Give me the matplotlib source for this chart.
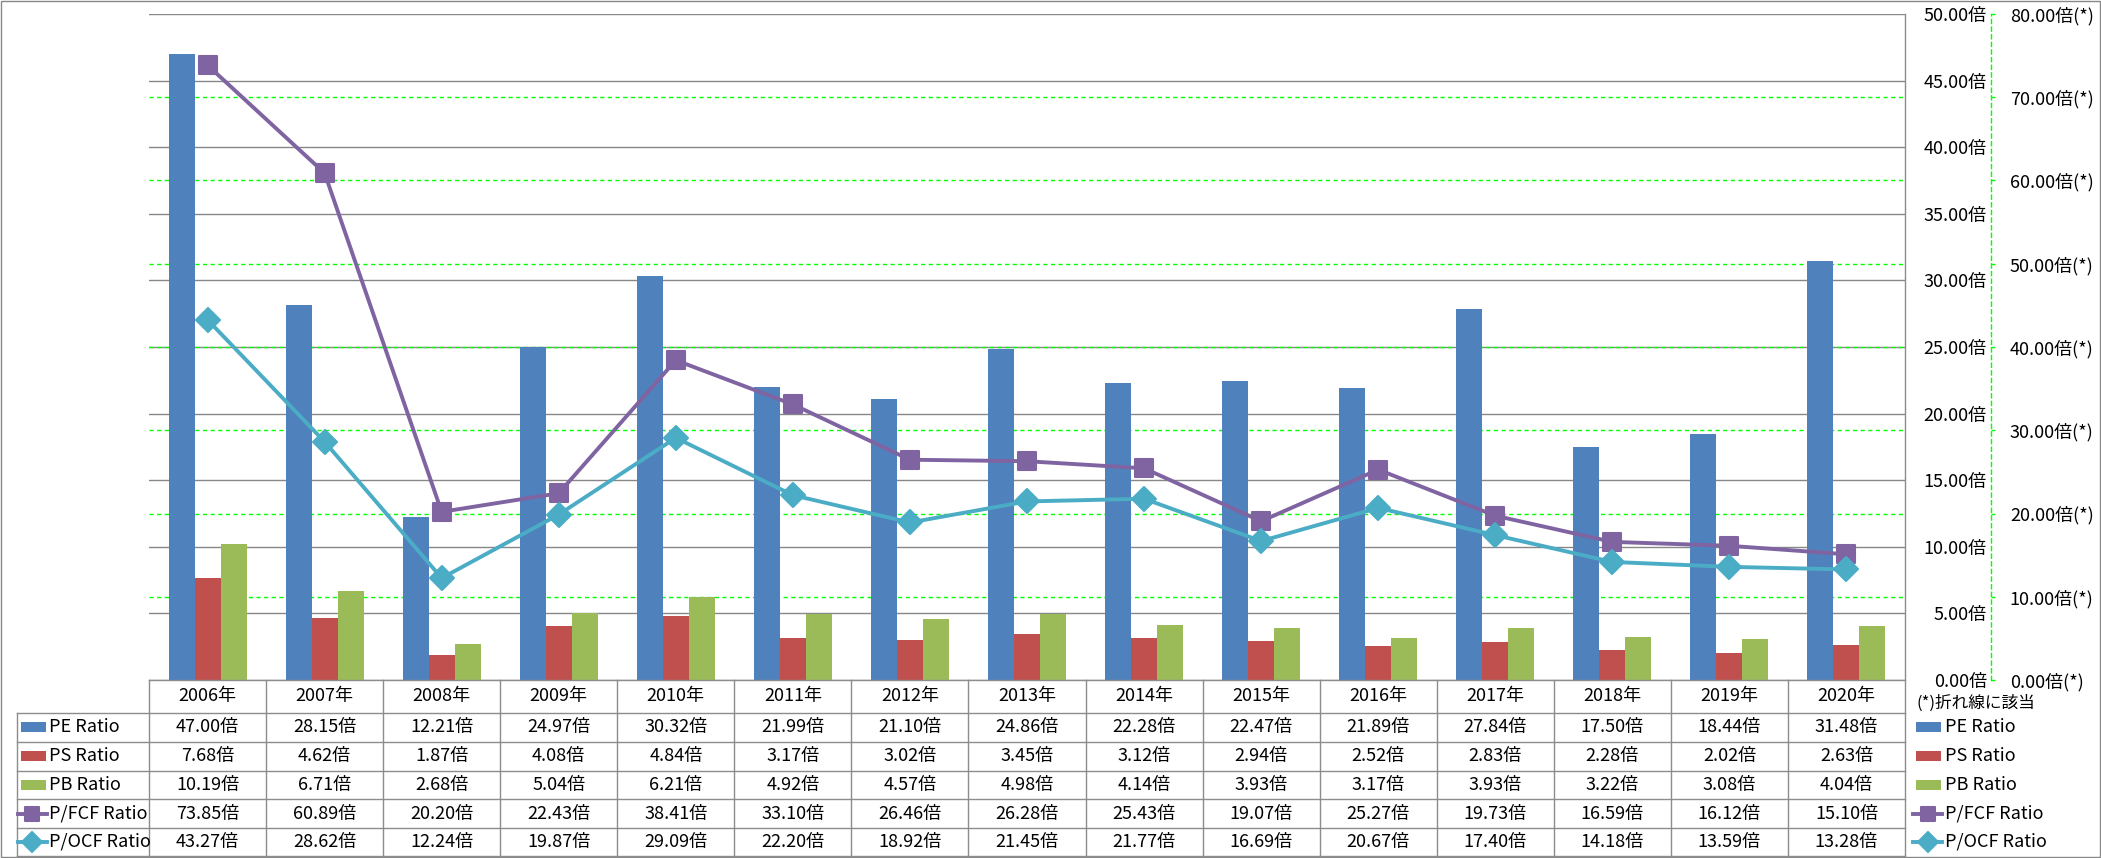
import matplotlib.pyplot as plt
from matplotlib.markers import MarkerStyle
from matplotlib.patches import Rectangle
import matplotlib.transforms as mtransforms
import numpy as np

plt.rcParams['font.family'] = ['Noto Sans CJK JP', 'DejaVu Sans']

# データ
years = ["2006年", "2007年", "2008年", "2009年", "2010年", "2011年", "2012年", "2013年",
         "2014年", "2015年", "2016年", "2017年", "2018年", "2019年", "2020年"]
pe = [47.00, 28.15, 12.21, 24.97, 30.32, 21.99, 21.10, 24.86, 22.28, 22.47, 21.89, 27.84, 17.50, 18.44, 31.48]
ps = [7.68, 4.62, 1.87, 4.08, 4.84, 3.17, 3.02, 3.45, 3.12, 2.94, 2.52, 2.83, 2.28, 2.02, 2.63]
pb = [10.19, 6.71, 2.68, 5.04, 6.21, 4.92, 4.57, 4.98, 4.14, 3.93, 3.17, 3.93, 3.22, 3.08, 4.04]
pfcf = [73.85, 60.89, 20.20, 22.43, 38.41, 33.10, 26.46, 26.28, 25.43, 19.07, 25.27, 19.73, 16.59, 16.12, 15.10]
pocf = [43.27, 28.62, 12.24, 19.87, 29.09, 22.20, 18.92, 21.45, 21.77, 16.69, 20.67, 17.40, 14.18, 13.59, 13.28]

bar_names = ["PE Ratio", "PS Ratio", "PB Ratio"]
line_names = ["P/FCF Ratio", "P/OCF Ratio"]
left_ticks = [0, 5, 10, 15, 20, 25, 30, 35, 40, 45, 50]
right_ticks = [0, 10, 20, 30, 40, 50, 60, 70, 80]
note = "(*)折れ線に該当"

bar_colors = ["#4F81BD", "#C0504D", "#9BBB59"]
line_colors = ["#8064A2", "#4BACC6"]
line_markers = ["s", "D"]
line_msize = [12.5, 12.5]
grid_gray = "#878787"
green = "#00FF00"
FS = 13

W, H = 2101, 858
fig = plt.figure(figsize=(W / 100, H / 100), dpi=100)

# プロット領域 (px)
L, R, T, B = 149, 1905, 14, 680
ax = fig.add_axes([L / W, 1 - B / H, (R - L) / W, (B - T) / H])
ax2 = ax.twinx()

n = len(years)
x = np.arange(n)
ax.set_xlim(-0.5, n - 0.5)
ax.set_ylim(0, 50)
ax2.set_ylim(0, 80)
ax.set_xticks([])

# 棒グラフ
bw = 0.222
for k, vals in enumerate([pe, ps, pb]):
    ax.bar(x + (k - 1) * bw, vals, width=bw, color=bar_colors[k], zorder=2)

# グリッド
ax.set_axisbelow(True)
ax.yaxis.grid(True, color=grid_gray, lw=1.0)
sec_tr = mtransforms.blended_transform_factory(ax.transAxes, ax2.transData)
ax.hlines(right_ticks[1:-1], 0, 1, transform=sec_tr, colors=green, lw=1.0,
          linestyles=(0, (3, 2.5)), zorder=1)

# 折れ線
for k, vals in enumerate([pfcf, pocf]):
    ms = MarkerStyle(line_markers[k], joinstyle='round')
    ax2.plot(x, vals, color=line_colors[k], lw=2.8, marker=ms, ms=line_msize[k],
             mec=line_colors[k], mew=1.5, zorder=3, clip_on=False)

# 軸
for s in ax.spines.values():
    s.set_visible(False)
for name, s in ax2.spines.items():
    s.set_visible(name == 'right')
ax.yaxis.tick_right()
ax.set_yticks(left_ticks)
ax.set_yticklabels([f"{v:.2f}倍" for v in left_ticks], ha='right', fontsize=FS)
ax.tick_params(axis='y', length=0, pad=59)

ax2.spines['right'].set_position(('outward', 62))
ax2.spines['right'].set_color(green)
ax2.spines['right'].set_linestyle((0, (3, 2.5)))
ax2.spines['right'].set_linewidth(1.0)
ax2.set_yticks(right_ticks)
ax2.set_yticklabels([f"{v:.2f}倍(*)" for v in right_ticks], fontsize=FS)
ax2.tick_params(axis='y', length=3, width=1.0, color=green, direction='out', pad=10.5)

# 表 (オーバーレイ, px座標)
ov = fig.add_axes([0, 0, 1, 1], zorder=10)
ov.set_xlim(0, W)
ov.set_ylim(H, 0)
ov.axis('off')
ov.patch.set_visible(False)

def col_px(v):
    return ax.transData.transform((v, 0))[0]

edges = [col_px(i - 0.5) for i in range(n + 1)]
centers = [col_px(i) for i in range(n)]
rows = [680, 712.5, 741.5, 770.5, 799, 828, 856]
legL = 16.7
lc = "#8C8C8C"

ov.plot([edges[0], edges[-1]], [rows[0], rows[0]], color=lc, lw=1.0)
for ry in rows[1:]:
    ov.plot([legL, edges[-1]], [ry, ry], color=lc, lw=1.0)
for i, ex in enumerate(edges):
    top = T if i == n else rows[0]
    ov.plot([ex, ex], [top, rows[-1]], color=lc, lw=1.0)
ov.plot([legL, legL], [rows[1], rows[-1]], color=lc, lw=1.0)

# 見出し行
hy = (rows[0] + rows[1]) / 2
for i in range(n):
    ov.text(centers[i], hy, years[i], ha='center', va='center', fontsize=FS)

table_vals = [pe, ps, pb, pfcf, pocf]
names = bar_names + line_names
for r, vals in enumerate(table_vals):
    cy = (rows[r + 1] + rows[r + 2]) / 2
    for i in range(n):
        ov.text(centers[i], cy, f"{vals[i]:.2f}倍", ha='center', va='center', fontsize=FS)


def legend_key(x0, cy, r):
    if r < 3:
        ov.add_patch(Rectangle((x0 + 3, cy - 5), 25, 10, color=bar_colors[r], lw=0))
    else:
        k = r - 3
        ov.plot([x0, x0 + 29], [cy, cy], color=line_colors[k], lw=2.8)
        ms = MarkerStyle(line_markers[k], joinstyle='round')
        ov.plot([x0 + 14.5], [cy], marker=ms, ms=line_msize[k] * 0.8, color=line_colors[k],
                mec=line_colors[k], mew=1.5)


for r in range(5):
    cy = (rows[r + 1] + rows[r + 2]) / 2
    legend_key(legL + 1, cy, r)
    ov.text(legL + 32.5, cy, names[r], ha='left', va='center', fontsize=FS)
    legend_key(1913, cy, r)
    ov.text(1945, cy, names[r], ha='left', va='center', fontsize=FS)

ov.text(1917, 703, note, ha='left', va='center', fontsize=12)

# 外枠
ov.add_patch(Rectangle((1, 1), W - 2, H - 2, fill=False, ec="#888888", lw=1.0))

fig.savefig("out.png", dpi=100)
